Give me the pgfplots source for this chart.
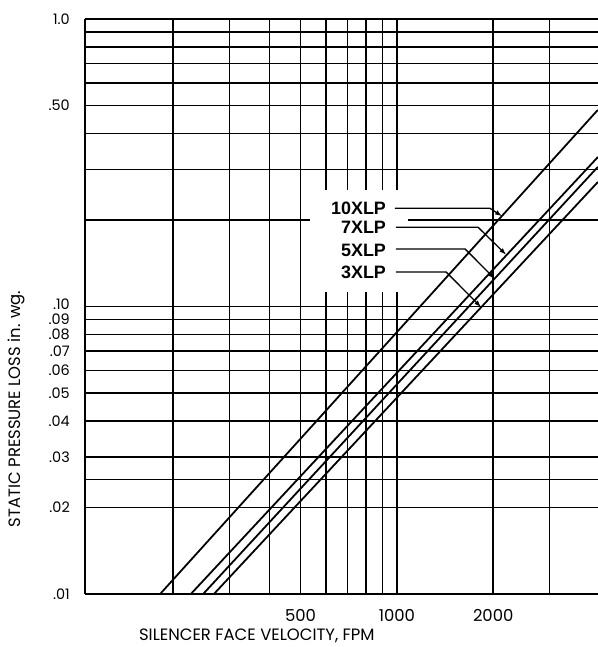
\documentclass[border=0pt]{standalone}
\usepackage{fontspec}
\setmainfont{Poppins}
\newfontfamily\labfont{Liberation Sans}
\usepackage{pgfplots}
\pgfplotsset{compat=1.18}
\usetikzlibrary{arrows.meta,calc}

\begin{document}
\begin{tikzpicture}
\begin{axis}[
  xmode=log, ymode=log,
  scale only axis,
  width=513bp, height=575bp,
  xmin=106, xmax=4250,
  ymin=0.01, ymax=1.0,
  axis x line*=bottom, axis y line*=left,
  axis line style={line width=2.4pt, black},
  xtick={200,300,400,500,600,700,800,900,1000,2000,3000},
  xticklabels={,,,500,,,,,1000,2000,},
  ytick={0.01,0.02,0.025,0.03,0.04,0.05,0.06,0.07,0.08,0.09,0.1,0.2,0.3,0.4,0.5,0.6,0.7,0.8,0.9,1.0},
  yticklabels={.01,.02,,.03,.04,.05,.06,.07,.08,.09,\raisebox{2bp}[\height][0pt]{.10},,,,.50,,,,,1.0},
  minor xtick={}, minor ytick={},
  xmajorgrids, ymajorgrids,
  major grid style={black, line width=1.5pt},
  major tick length=0pt,
  tick style={draw=none},
  yticklabel style={anchor=east, inner sep=0pt, xshift=-15bp, font=\fontsize{14.5}{15}\selectfont},
  xticklabel style={anchor=north, inner sep=0pt, yshift=-15bp, font=\fontsize{16.5}{17}\selectfont},
  xlabel={SILENCER FACE VELOCITY, FPM},
  ylabel={STATIC PRESSURE LOSS in. wg.},
  every axis x label/.style={at={(rel axis cs:0.335,0)}, anchor=center, yshift=-42bp, font=\fontsize{16.5}{17}\selectfont},
  every axis y label/.style={at={(rel axis cs:0,0.322)}, anchor=center, rotate=90, yshift=69bp, font=\fontsize{16.5}{17}\selectfont},
  clip=true,
]
\coordinate (SW) at (rel axis cs:0,0);
\coordinate (NE) at (rel axis cs:1,1);
% white box behind the labels
\fill[white] (rel axis cs:0.439,0.525) rectangle (rel axis cs:0.630,0.703);
% series
\addplot[black, line width=1.8pt] coordinates {(182,0.01) (4246,0.483)}; % 10XLP
\addplot[black, line width=1.8pt] coordinates {(227,0.01) (4246,0.331)}; % 7XLP
\addplot[black, line width=1.8pt] coordinates {(248,0.01) (4246,0.306)}; % 5XLP
\addplot[black, line width=1.8pt] coordinates {(268,0.01) (4246,0.271)}; % 3XLP
% labels
\begin{scope}[every node/.style={anchor=east, inner sep=0pt, font=\labfont\bfseries\fontsize{18}{18}\selectfont}]
\node at (rel axis cs:0.587,0.671) {10XLP};
\node at (rel axis cs:0.587,0.637) {7XLP};
\node at (rel axis cs:0.587,0.598) {5XLP};
\node at (rel axis cs:0.587,0.560) {3XLP};
\end{scope}
\begin{scope}[line width=1.3pt, -{Latex[length=7pt,width=5pt]}]
\draw (rel axis cs:0.604,0.671) -- (rel axis cs:0.789,0.671) -- (rel axis cs:0.813,0.657);
\draw (rel axis cs:0.606,0.638) -- (rel axis cs:0.766,0.638) -- (rel axis cs:0.821,0.590);
\draw (rel axis cs:0.606,0.600) -- (rel axis cs:0.741,0.600) -- (rel axis cs:0.799,0.548);
\draw (rel axis cs:0.606,0.560) -- (rel axis cs:0.704,0.560) -- (rel axis cs:0.772,0.499);
\end{scope}
\end{axis}
\pgfresetboundingbox
\path[use as bounding box] ($(SW)+(-85bp,-53bp)$) rectangle ($(NE)+(0,19bp)$);
\end{tikzpicture}
\end{document}
